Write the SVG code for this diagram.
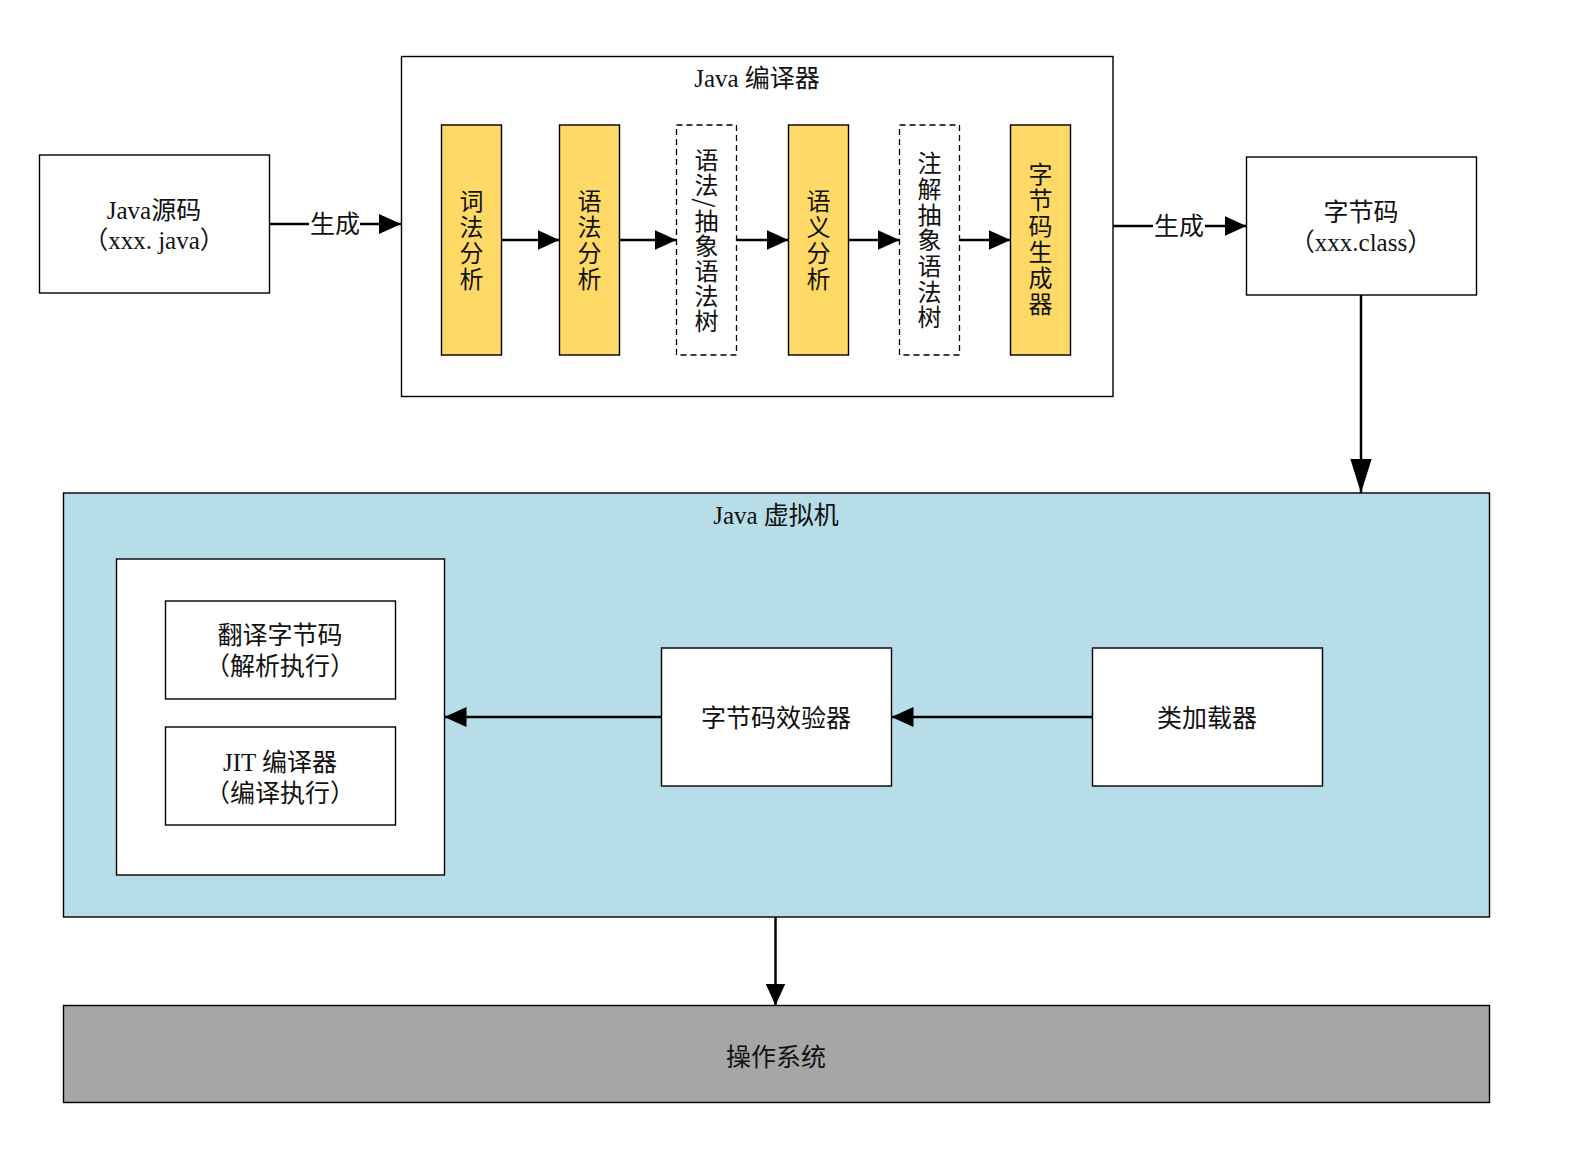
<svg xmlns="http://www.w3.org/2000/svg" width="1575" height="1155" viewBox="0 0 1575 1155">
<style>
  .box{fill:#fff;stroke:#000;stroke-width:1.4}
  .stage{fill:#FFD966;stroke:#000;stroke-width:1.4}
  .dash{fill:#fff;stroke:#000;stroke-width:1.3;stroke-dasharray:6 4}
  .t{font-family:"Liberation Serif","Noto Sans CJK SC",serif;font-size:25px;fill:#111;text-anchor:middle;white-space:pre}
  .v{font-family:"Noto Sans CJK SC",serif;font-size:24px;fill:#111;text-anchor:middle;writing-mode:vertical-rl;letter-spacing:2px}
  .ln{fill:none;stroke:#000;stroke-width:2.5}
</style>
<defs>
  <marker id="ah" markerUnits="userSpaceOnUse" markerWidth="22" markerHeight="20" viewBox="0 0 20 18" refX="20" refY="9" orient="auto">
    <path d="M0,0 L20,9 L0,18 Z" fill="#000"/>
  </marker>
  <marker id="ahl" markerUnits="userSpaceOnUse" markerWidth="34" markerHeight="22" viewBox="0 0 32 20" refX="32" refY="10" orient="auto">
    <path d="M0,0 L32,10 L0,20 Z" fill="#000"/>
  </marker>
</defs>

<g id="jvm">
  <rect x="63.5" y="493" width="1426" height="424" fill="#B7DDE8" stroke="#000" stroke-width="1.4"/>
  <text class="t" x="776" y="524">Java 虚拟机</text>
</g>
<g id="os">
  <rect x="63.5" y="1005.5" width="1426" height="97" fill="#A6A6A6" stroke="#000" stroke-width="1.4"/>
  <text class="t" x="776" y="1066">操作系统</text>
</g>
<g id="compiler">
  <rect class="box" x="401.5" y="56.5" width="711.5" height="340"/>
  <text class="t" x="757" y="87">Java 编译器</text>
</g>
<g id="source">
  <rect class="box" x="39.5" y="155" width="230" height="138"/>
  <text class="t" x="154" y="219">Java源码</text>
  <text class="t" x="154" y="249">（xxx. java）</text>
</g>
<g id="bytecode">
  <rect class="box" x="1246.5" y="157" width="230" height="138"/>
  <text class="t" x="1361" y="221">字节码</text>
  <text class="t" x="1361" y="251">（xxx.class）</text>
</g>
<g id="lexical">
  <rect class="stage" x="441.5" y="125" width="60" height="230"/>
  <text class="v" x="471.5" y="241">词法分析</text>
</g>
<g id="syntax">
  <rect class="stage" x="559.5" y="125" width="60" height="230"/>
  <text class="v" x="589.5" y="241">语法分析</text>
</g>
<g id="ast">
  <rect class="dash" x="676.5" y="125" width="60" height="230"/>
  <text class="v" x="706.5" y="241" style="letter-spacing:1px">语法/抽象语法树</text>
</g>
<g id="semantic">
  <rect class="stage" x="788.5" y="125" width="60" height="230"/>
  <text class="v" x="818.5" y="241">语义分析</text>
</g>
<g id="annotated-ast">
  <rect class="dash" x="899.5" y="125" width="60" height="230"/>
  <text class="v" x="929.5" y="241" style="letter-spacing:1.7px">注解抽象语法树</text>
</g>
<g id="codegen">
  <rect class="stage" x="1010.5" y="125" width="60" height="230"/>
  <text class="v" x="1040.5" y="240">字节码生成器</text>
</g>
<g id="engine">
  <rect class="box" x="116.5" y="559" width="328" height="316"/>
</g>
<g id="interpreter">
  <rect class="box" x="165.5" y="601" width="230" height="98"/>
  <text class="t" x="280" y="644">翻译字节码</text>
  <text class="t" x="280" y="675">（解析执行）</text>
</g>
<g id="jit">
  <rect class="box" x="165.5" y="727" width="230" height="98"/>
  <text class="t" x="280" y="771">JIT 编译器</text>
  <text class="t" x="280" y="802">（编译执行）</text>
</g>
<g id="verifier">
  <rect class="box" x="661.5" y="648" width="230" height="138"/>
  <text class="t" x="776" y="727">字节码效验器</text>
</g>
<g id="classloader">
  <rect class="box" x="1092.5" y="648" width="230" height="138"/>
  <text class="t" x="1207" y="727">类加载器</text>
</g>

<g id="connectors">
  <path class="ln" d="M269.5,224 H309"/>
  <text class="t" x="335" y="233">生成</text>
  <path class="ln" d="M360,224 H401" marker-end="url(#ah)"/>
  <path class="ln" d="M501.5,240 H559.5" marker-end="url(#ah)"/>
  <path class="ln" d="M619.5,240 H676.5" marker-end="url(#ah)"/>
  <path class="ln" d="M736.5,240 H788.5" marker-end="url(#ah)"/>
  <path class="ln" d="M848.5,240 H899.5" marker-end="url(#ah)"/>
  <path class="ln" d="M959.5,240 H1010.5" marker-end="url(#ah)"/>
  <path class="ln" d="M1113,226 H1153"/>
  <text class="t" x="1179" y="235">生成</text>
  <path class="ln" d="M1205,226 H1246.5" marker-end="url(#ah)"/>
  <path class="ln" d="M1361,295 V493" marker-end="url(#ahl)"/>
  <path class="ln" d="M1092.5,717 H891.5" marker-end="url(#ah)"/>
  <path class="ln" d="M661.5,717 H444.5" marker-end="url(#ah)"/>
  <path class="ln" d="M775.5,917 V1005.5" marker-end="url(#ah)"/>
</g>
</svg>
